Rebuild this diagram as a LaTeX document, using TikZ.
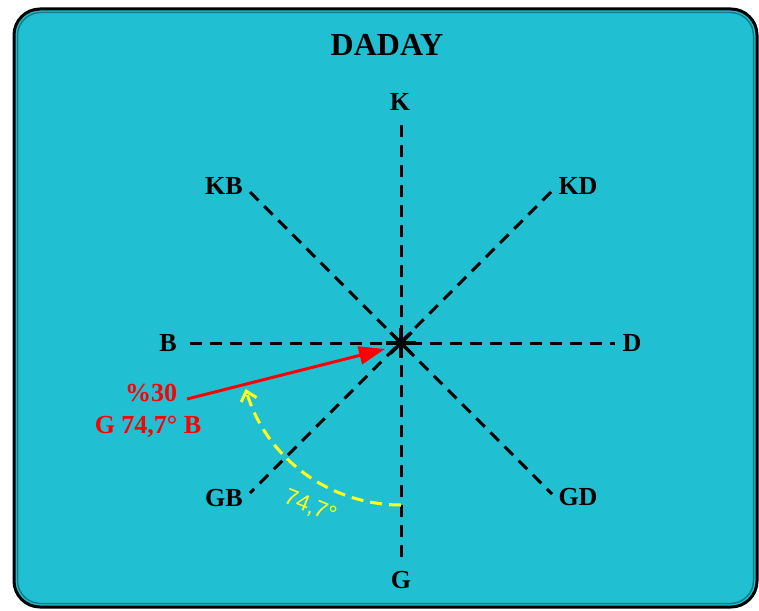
\documentclass[tikz,border=0pt]{standalone}
\usepackage{fontspec}
\setmainfont{Liberation Serif}
\newfontfamily\yellowfont{Liberation Sans}
\usetikzlibrary{arrows.meta}
\definecolor{panel}{HTML}{20C0D2}
\definecolor{panelshade}{HTML}{137E8A}
\definecolor{arcyellow}{HTML}{FFFF1E}
\begin{document}
\begin{tikzpicture}[x=1pt,y=-1pt,
  lbl/.style={font=\bfseries\fontsize{26}{26}\selectfont, text=black, inner sep=0pt},
  axis/.style={line width=3pt, dash pattern=on 12pt off 8pt},
  redlbl/.style={font=\bfseries\fontsize{26}{26}\selectfont, text=red, inner sep=0pt}]
\useasboundingbox (0,0) rectangle (759,610);
% panel
\draw[line width=3pt, fill=panel, rounded corners=26pt] (14,9) rectangle (757,607);
\draw[line width=1.5pt, panelshade, rounded corners=23pt] (17.5,12.5) rectangle (753.5,603.5);
% title
\node[lbl, font=\bfseries\fontsize{32}{32}\selectfont] (title) at (387,45) {DADAY};
% labels
\node[lbl] (K) at (400,102) {K};
\node[lbl] (G) at (401,580) {G};
\node[lbl] (B) at (168,343) {B};
\node[lbl] (D) at (632,343) {D};
\node[lbl] (KB) at (224,186) {KB};
\node[lbl] (KD) at (578,186) {KD};
\node[lbl] (GB) at (224,498) {GB};
\node[lbl] (GD) at (578,497) {GD};
% axis end points
\coordinate (c) at (401,343);
\coordinate (kend) at (401,125);
\coordinate (gend) at (401,558);
\coordinate (bend) at (190,343);
\coordinate (dend) at (615,343);
\coordinate (kbend) at (250,192);
\coordinate (gdend) at (552,494);
\coordinate (kdend) at (551,192);
\coordinate (gbend) at (250,493);
\draw[axis] (kend) -- (gend);
\draw[axis] (bend) -- (dend);
\draw[axis] (kbend) -- (gdend);
\draw[axis] (kdend) -- (gbend);
% centre star
\foreach \a in {0,45,...,315}
  \draw[line width=3.5pt] (c) -- ++(\a:15pt);
% red vector
\coordinate (rtail) at (187,399);
\coordinate (rtip) at (385,349);
\draw[red, line width=3pt, -{Triangle[length=26pt,width=18pt]}] (rtail) -- (rtip);
\node[redlbl] (pct) at (151,393) {\%30};
\node[redlbl] (brg) at (148,427) {G 74,7° B};
% yellow angle arc
\coordinate (astart) at (401,505);
\draw[arcyellow, line width=3pt, dash pattern=on 12pt off 7pt,
      -{Straight Barb[length=9pt,width=16pt,line width=3pt]}]
  (astart) arc[start angle=-90, end angle=-163.5, radius=162pt];
\node[text=arcyellow, font=\yellowfont\fontsize{23}{23}\selectfont, rotate=-22, inner sep=0pt] (ang) at (310,507) {74,7°};
\end{tikzpicture}
\end{document}
